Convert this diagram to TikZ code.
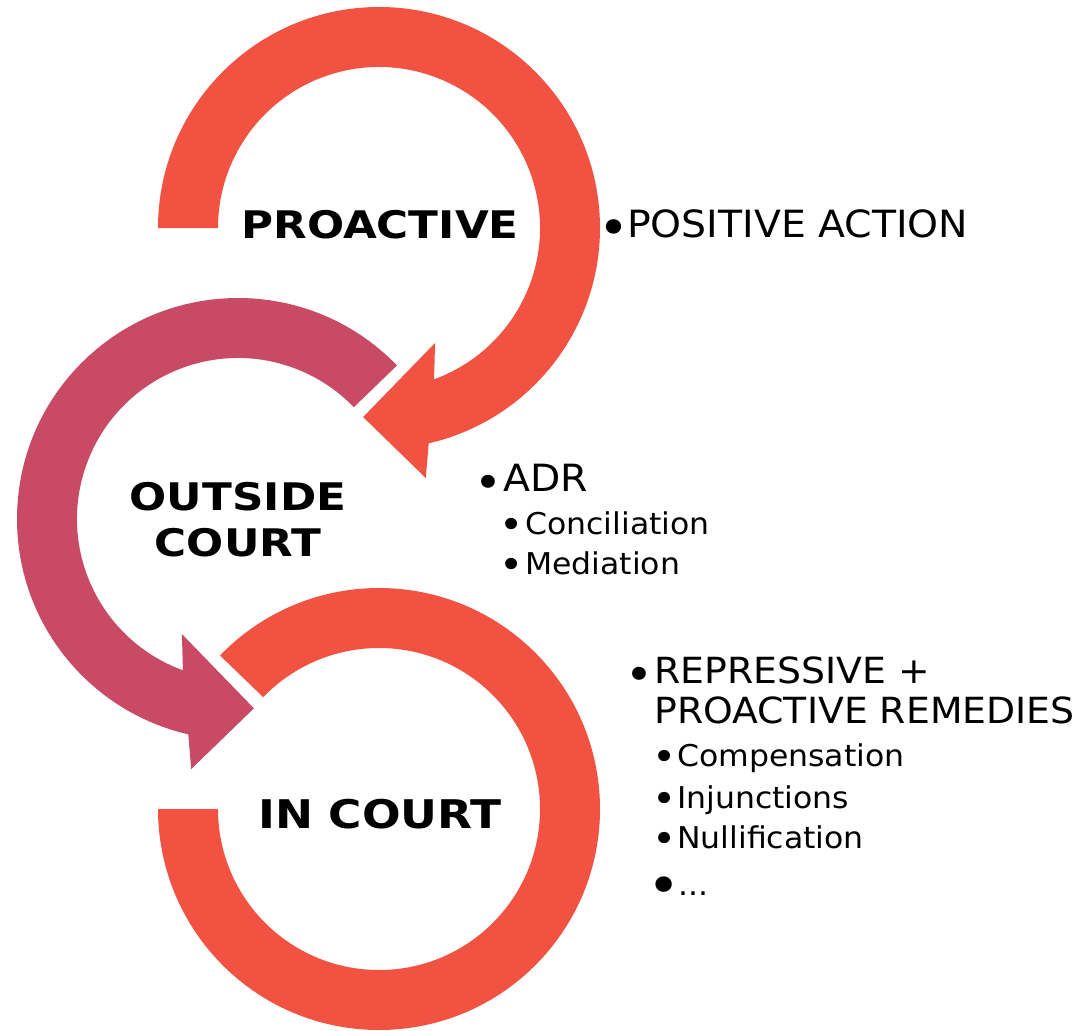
\documentclass[tikz,border=0pt]{standalone}
\usepackage{fontspec}
\setmainfont[FakeStretch=1.05]{DejaVu Sans}
\newfontfamily\headfont[FakeStretch=1.15]{DejaVu Sans}
\usetikzlibrary{calc}
\definecolor{ringred}{HTML}{F15241}
\definecolor{ringpurple}{HTML}{C84A64}
% #1 bullet font size, #2 gap to text, #3 raise
\newcommand\bulletmark[3]{\llap{\raisebox{#3}{\fontsize{#1}{#1}\selectfont •}\hspace{#2}}}
\begin{document}
\begin{tikzpicture}[x=1pt,y=-1pt,
  head/.style={inner sep=0, align=center},
  item/.style={anchor=base west, inner sep=0},
  lvone/.style={font=\fontsize{37.5}{44}\selectfont},
  lvonec/.style={font=\fontsize{36}{40}\selectfont, align=left},
  lvtwo/.style={font=\fontsize{30}{36}\selectfont}]
\useasboundingbox (0,0) rectangle (1091,1030);
\coordinate (T) at (379,228);
\coordinate (M) at (238,519);
\coordinate (B) at (379,809);
% top ring (red) with arrowhead
\fill[ringred] ($(T)+(180:221)$) arc[start angle=180, end angle=437, radius=221]
  -- ($(T)+(79.4:254.4)$) -- ($(T)+(94.8:189.7)$) -- ($(T)+(64:127.9)$)
  -- ($(T)+(70:161)$) arc[start angle=430, end angle=180, radius=161] -- cycle;
% middle ring (purple) with arrowhead
\fill[ringpurple] ($(M)+(-44:221)$) arc[start angle=-44, end angle=-257, radius=221]
  -- ($(M)+(100.6:254.4)$) -- ($(M)+(85.2:190)$) -- ($(M)+(116:128)$)
  -- ($(M)+(110:161)$) arc[start angle=-250, end angle=-44, radius=161] -- cycle;
% bottom ring (red)
\fill[ringred] ($(B)+(224:221)$) arc[start angle=224, end angle=540, radius=221]
  -- ($(B)+(180:161)$) arc[start angle=540, end angle=224, radius=161] -- cycle;
% headings
\node[head, anchor=base, font=\headfont\bfseries\fontsize{38}{46}\selectfont] (proactive) at (380,238) {PROACTIVE};
\node[head, anchor=center, font=\headfont\bfseries\fontsize{38}{46}\selectfont] (outside) at (238,520) {OUTSIDE\\COURT};
\node[head, anchor=base, font=\headfont\bfseries\fontsize{39.5}{48}\selectfont] (incourt) at (380,828) {IN COURT};
% lists
\node[item, lvone] (pos) at (627,237) {\bulletmark{50}{-2.5pt}{-8pt}POSITIVE ACTION};
\node[item, lvone] (adr) at (503,491) {\bulletmark{45}{1pt}{-7pt}ADR};
\node[item, lvtwo] (conc) at (525,534) {\bulletmark{39}{2pt}{-4.3pt}Conciliation};
\node[item, lvtwo] (med) at (525,574) {\bulletmark{39}{2pt}{-4.3pt}Mediation};
\node[item, lvonec] (rep) at (654,723) {\bulletmark{45}{1pt}{-7.6pt}REPRESSIVE +\\PROACTIVE REMEDIES};
\node[item, lvtwo] (comp) at (677,766) {\bulletmark{39}{1pt}{-4.3pt}Compensation};
\node[item, lvtwo] (inj) at (677,808) {\bulletmark{39}{1pt}{-4.3pt}Injunctions};
\node[item, lvtwo] (nul) at (677,848) {\bulletmark{39}{1pt}{-4.3pt}Nullification};
\node[item, lvtwo] (dots) at (678,895) {\bulletmark{53.6}{-2.3pt}{-9.4pt}...};
\end{tikzpicture}
\end{document}
